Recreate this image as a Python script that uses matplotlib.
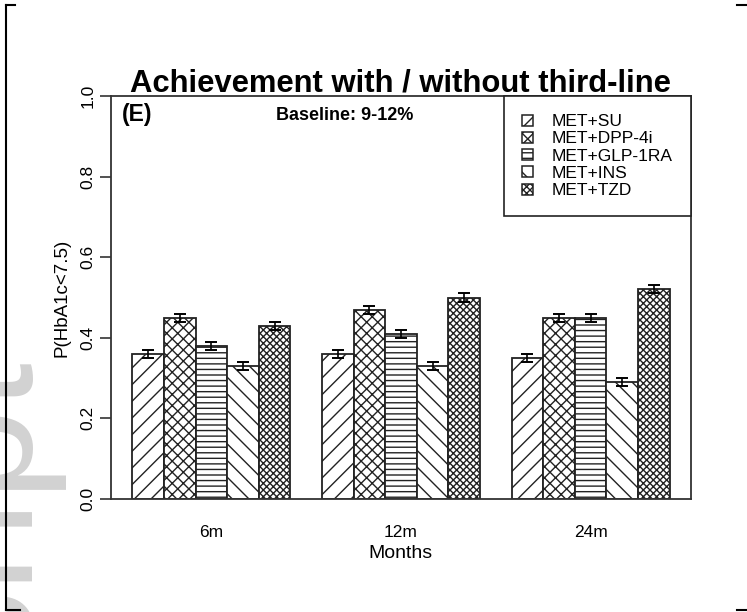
import numpy as np
import matplotlib
matplotlib.use("Agg")
import matplotlib.pyplot as plt
from matplotlib.patches import Patch
from matplotlib.lines import Line2D

plt.rcParams['font.family'] = ['Liberation Sans', 'DejaVu Sans']
plt.rcParams['hatch.linewidth'] = 1.0

# data
months = ["6m", "12m", "24m"]
series = ["MET+SU", "MET+DPP-4i", "MET+GLP-1RA", "MET+INS", "MET+TZD"]
su = [0.36, 0.36, 0.35]
dpp4i = [0.45, 0.47, 0.45]
glp1ra = [0.38, 0.41, 0.45]
ins = [0.33, 0.33, 0.29]
tzd = [0.43, 0.50, 0.52]
err = [0.01, 0.01, 0.01]

values = [su, dpp4i, glp1ra, ins, tzd]
hatches = ["//", "xxx", "---", "\\\\", "xxxxx"]

W, H = 747, 612
fig = plt.figure(figsize=(W / 100, H / 100), dpi=100)

# faint watermark at left edge (cut off in the source page too)
fig.text(33 / W, 1 - 362 / H, "Accepted Manuscript", rotation=90, rotation_mode="anchor",
         ha="right", va="baseline", fontsize=119, color="#d2d2d2", zorder=0)

# page frame marks
for xs, ys in [([6, 6], [5, 610]), ([6, 15], [5, 5]), ([6, 20], [610, 610]),
               ([737, 747], [5, 5]), ([737, 747], [610, 610])]:
    fig.add_artist(Line2D([x / W for x in xs], [1 - y / H for y in ys],
                          color="black", lw=1.5))

ax = fig.add_axes([111 / W, (H - 499) / H, 580 / W, 403 / H])

# R style beside barplot: one bar width of space before each group
ngroups = len(months)
nser = len(series)
for s in range(nser):
    lefts = [1 + g * (nser + 1) + s for g in range(ngroups)]
    centers = [l + 0.5 for l in lefts]
    ax.bar(lefts, values[s], width=1, align="edge", color="white",
           edgecolor="#222222", linewidth=1.3, hatch=hatches[s], zorder=2)
    ax.errorbar(centers, values[s], yerr=err, fmt="none", ecolor="black",
                elinewidth=1.2, capsize=4.3, capthick=1.4, zorder=3)

group_centers = [1 + g * (nser + 1) + nser / 2 for g in range(ngroups)]
ax.set_xlim(0.32, 18.68)
ax.set_ylim(0, 1)
ax.set_xticks(group_centers)
ax.set_xticklabels(months, fontsize=12.5)
ax.tick_params(axis="x", length=0, pad=19)
ax.set_yticks(np.arange(0, 1.01, 0.2))
ax.set_yticklabels(["0.0", "0.2", "0.4", "0.6", "0.8", "1.0"], rotation=90,
                   va="center", fontsize=12.5)
ax.tick_params(axis="y", length=8, width=1.2, pad=3, color="#333333")
for sp in ax.spines.values():
    sp.set_linewidth(1.3)
    sp.set_color("#333333")

fig.text(62 / W, 1 - 298 / H, "P(HbA1c<7.5)", rotation=90, ha="center",
         va="center", fontsize=13.5)
fig.text(400 / W, 1 - 553 / H, "Months", ha="center", va="center", fontsize=14)
fig.text(400 / W, 1 - 92 / H, "Achievement with / without third-line",
         ha="center", va="baseline", fontsize=22.3, fontweight="bold")
fig.text(122 / W, 1 - 121 / H, "(E)", ha="left", va="baseline",
         fontsize=16.5, fontweight="bold")
fig.text(345 / W, 1 - 120 / H, "Baseline: 9-12%", ha="center", va="baseline",
         fontsize=13, fontweight="bold")

handles = [Patch(facecolor="white", edgecolor="#222222", hatch=h, linewidth=1.1)
           for h in hatches]
leg = ax.legend(handles, series, loc="upper right", bbox_to_anchor=(1, 1),
                borderaxespad=0, fontsize=12.5, handlelength=0.6,
                handleheight=0.6, handletextpad=1.1, borderpad=1.05,
                labelspacing=0.13, fancybox=False, framealpha=1)
leg.get_frame().set_edgecolor("#222222")
leg.get_frame().set_linewidth(1.2)

fig.savefig("out.png", dpi=100)
